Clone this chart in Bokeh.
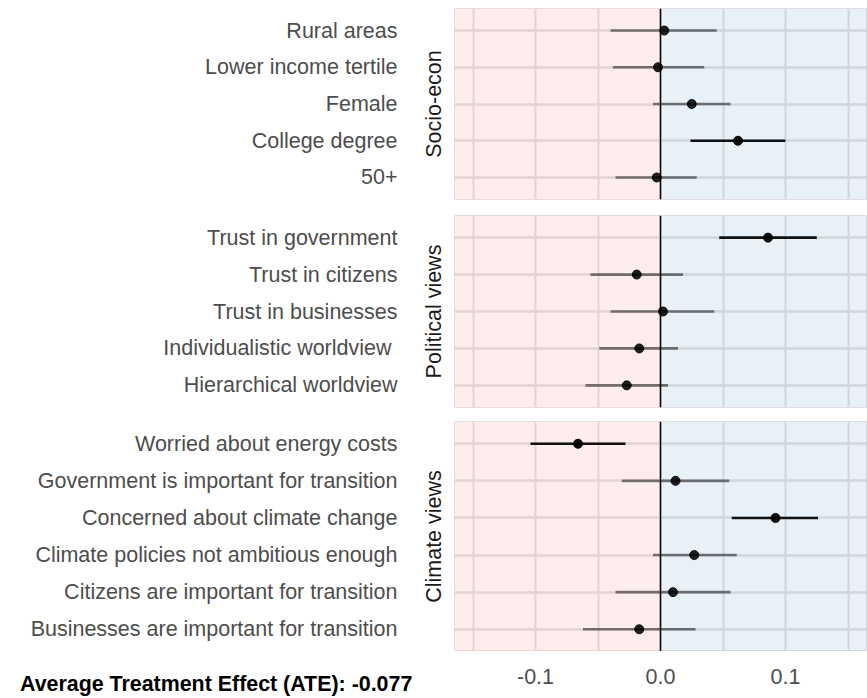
from bokeh.plotting import figure
from bokeh.models import (Range1d, FixedTicker, LinearAxis, Grid, Span, BoxAnnotation,
                          ColumnDataSource, NumeralTickFormatter, Div)
from bokeh.layouts import column, row
from bokeh.embed import file_html
from bokeh.resources import INLINE

# ---------------- data ----------------
socio_labels = ["Rural areas", "Lower income tertile", "Female", "College degree", "50+"]
socio_est = [0.003, -0.002, 0.025, 0.062, -0.003]
socio_lo = [-0.040, -0.038, -0.006, 0.024, -0.036]
socio_hi = [0.045, 0.035, 0.056, 0.100, 0.029]

pol_labels = ["Trust in government", "Trust in citizens", "Trust in businesses",
              "Individualistic worldview ", "Hierarchical worldview"]
pol_est = [0.086, -0.019, 0.002, -0.017, -0.027]
pol_lo = [0.047, -0.056, -0.040, -0.049, -0.060]
pol_hi = [0.125, 0.018, 0.043, 0.014, 0.006]

clim_labels = ["Worried about energy costs", "Government is important for transition",
               "Concerned about climate change", "Climate policies not ambitious enough",
               "Citizens are important for transition", "Businesses are important for transition"]
clim_est = [-0.066, 0.012, 0.092, 0.027, 0.010, -0.017]
clim_lo = [-0.104, -0.031, 0.057, -0.006, -0.036, -0.062]
clim_hi = [-0.028, 0.055, 0.126, 0.061, 0.056, 0.028]

strip_names = ["Socio-econ", "Political views", "Climate views"]
x_ticks = [-0.1, 0.0, 0.1]
x_grid_ticks = [-0.15, -0.1, -0.05, 0.0, 0.05, 0.1, 0.15]
ate = -0.077

FONT = "Liberation Sans"
x_range = Range1d(-0.1648, 0.1656)


def make_panel(labels, est, lo, hi, strip, height, top, bottom):
    n = len(labels)
    ys = [n - i for i in range(n)]
    sig = [(l > 0) or (h < 0) for l, h in zip(lo, hi)]
    src = ColumnDataSource(dict(
        y=ys, est=est, lo=lo, hi=hi,
        lalpha=[0.92 if s else 0.5 for s in sig],
        palpha=[0.95 if s else 0.87 for s in sig],
    ))
    p = figure(width=867, height=height, x_range=x_range, y_range=Range1d(0.4, n + 0.6),
               output_backend="svg", toolbar_location=None, x_axis_location=None,
               min_border_left=454, min_border_right=0,
               min_border_top=top, min_border_bottom=bottom,
               background_fill_color="white", border_fill_color="white",
               outline_line_color="#e6dede")

    # inner left axis: facet strip label only
    ax = p.yaxis[0]
    ax.ticker = FixedTicker(ticks=[])
    ax.major_label_standoff = 0
    ax.major_tick_out = 0
    ax.major_tick_in = 0
    ax.minor_tick_out = 0
    ax.minor_tick_in = 0
    ax.axis_line_color = None
    ax.axis_label = strip
    ax.axis_label_standoff = 9
    ax.axis_label_text_font = FONT
    ax.axis_label_text_font_style = "normal"
    ax.axis_label_text_font_size = "21.5px"
    ax.axis_label_text_color = "#1a1a1a"

    # outer left axis: category labels
    outer = LinearAxis(ticker=FixedTicker(ticks=ys),
                       major_label_overrides={y: lab for y, lab in zip(ys, labels)},
                       major_label_text_font=FONT, major_label_text_font_size="21.5px",
                       major_label_text_color="#4d4d4d", major_label_standoff=21,
                       major_tick_out=0, major_tick_in=0, minor_tick_out=0, minor_tick_in=0,
                       axis_line_color=None)
    p.add_layout(outer, "left")

    p.ygrid.ticker = FixedTicker(ticks=ys)
    p.ygrid.grid_line_color = "#dcdcdc"
    p.ygrid.grid_line_width = 2.5
    p.add_layout(Grid(dimension=0, ticker=FixedTicker(ticks=x_grid_ticks),
                      grid_line_color="#dcdcdc", grid_line_width=2))

    p.add_layout(BoxAnnotation(right=0, fill_color=(247, 187, 183), fill_alpha=0.25,
                               line_color=None, level="underlay"))
    p.add_layout(BoxAnnotation(left=0, fill_color=(163, 195, 227), fill_alpha=0.25,
                               line_color=None, level="underlay"))
    p.add_layout(Span(location=0, dimension="height", line_color="black",
                      line_width=1.5, level="underlay"))

    p.segment(x0="lo", y0="y", x1="hi", y1="y", source=src, line_color="black",
              line_alpha="lalpha", line_width=2.6)
    p.scatter(x="est", y="y", source=src, size=9, fill_color="black", line_color="black",
              fill_alpha="palpha", line_alpha="palpha")
    return p


p1 = make_panel(socio_labels, socio_est, socio_lo, socio_hi, strip_names[0], 207, 8, 8)
p2 = make_panel(pol_labels, pol_est, pol_lo, pol_hi, strip_names[1], 207, 8, 7)
p3 = make_panel(clim_labels, clim_est, clim_lo, clim_hi, strip_names[2], 237, 7, 0)

# bottom strip: x axis (shared scale) + ATE note
pax = figure(width=413, height=47, x_range=x_range, y_range=Range1d(0, 1),
             output_backend="svg", toolbar_location=None, y_axis_location=None,
             min_border_left=0, min_border_right=0, min_border_top=0, min_border_bottom=46,
             background_fill_color="white", border_fill_color="white",
             outline_line_color=None)
pax.xgrid.visible = False
pax.ygrid.visible = False
xa = pax.xaxis[0]
xa.ticker = FixedTicker(ticks=x_ticks)
xa.formatter = NumeralTickFormatter(format="0.0")
xa.major_label_text_font = FONT
xa.major_label_text_font_size = "21.5px"
xa.major_label_text_color = "#4d4d4d"
xa.major_label_standoff = 16
xa.major_tick_out = 0
xa.major_tick_in = 0
xa.minor_tick_out = 0
xa.minor_tick_in = 0
xa.axis_line_color = None
pax.scatter(x=[0.0], y=[0.5], size=0, alpha=0)

ate_div = Div(
    text=('<div style="position:relative; left:20px; top:21px; white-space:nowrap; '
          'font-family:\'Liberation Sans\', Arial, sans-serif; font-size:21.4px; '
          'font-weight:bold; color:black; line-height:24px;">'
          f'Average Treatment Effect (ATE): {ate}</div>'),
    width=454, height=47, margin=0)

layout = column(p1, p2, p3, row(ate_div, pax, spacing=0), spacing=0)
open("out.html", "w").write(file_html(layout, INLINE))
